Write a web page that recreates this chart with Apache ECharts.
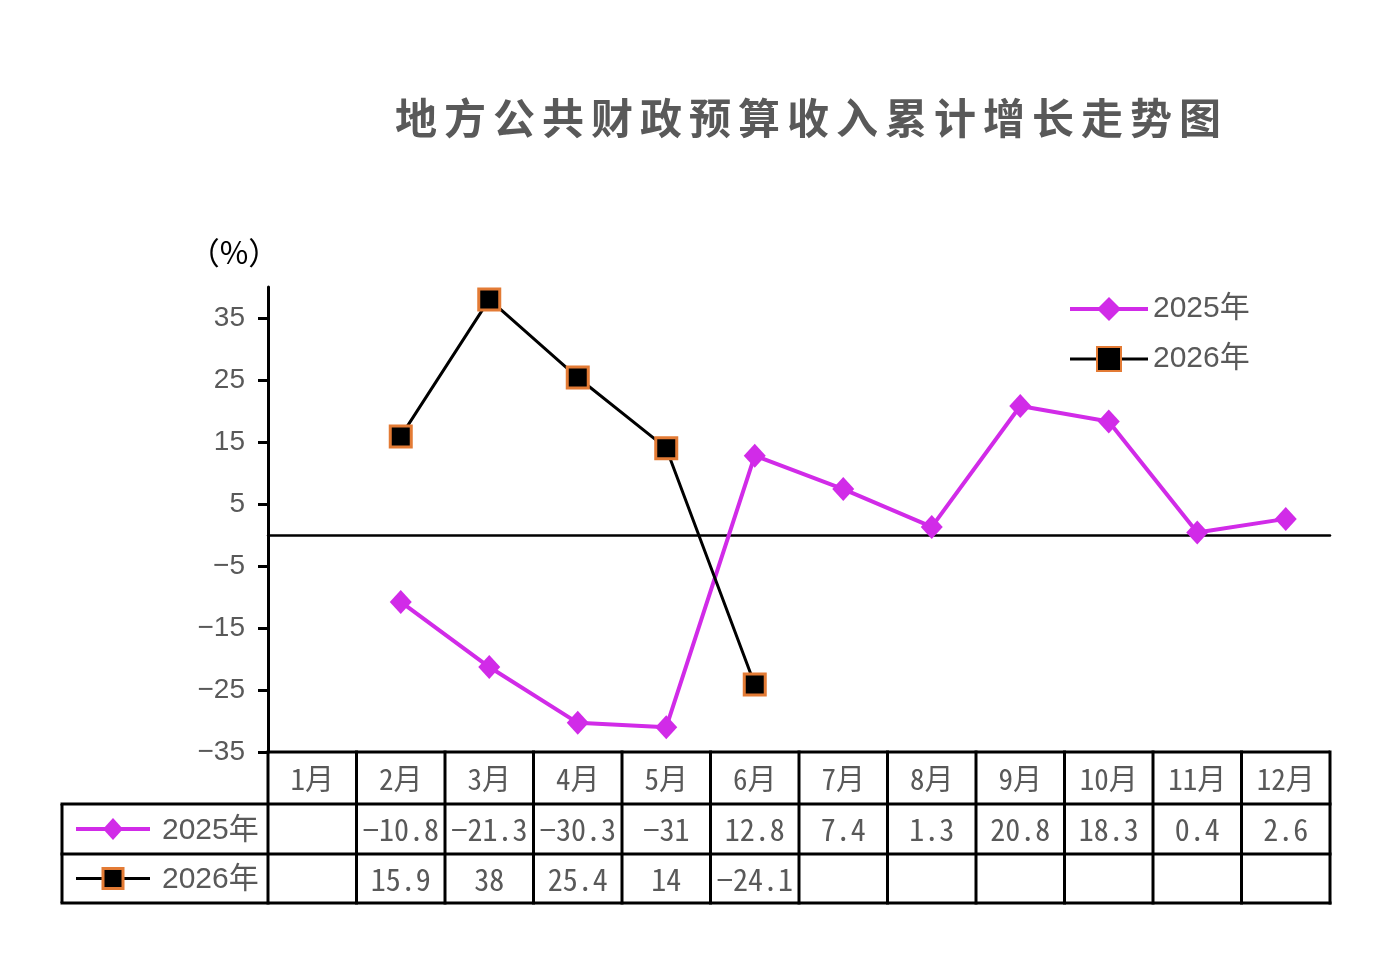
<!DOCTYPE html>
<html><head><meta charset="utf-8">
<script src="https://cdn.jsdelivr.net/npm/echarts@6/dist/echarts.min.js"></script>
<style>html,body{margin:0;padding:0;background:#fff}#c{width:1386px;height:968px}</style>
</head><body><div id="c"></div>
<script>
const titleText = '地方公共财政预算收入累计增长走势图';
const unitText = '（%）';
const months = ['1月','2月','3月','4月','5月','6月','7月','8月','9月','10月','11月','12月'];
const seriesNames = ['2025年','2026年'];
const v2025 = [null,-10.8,-21.3,-30.3,-31,12.8,7.4,1.3,20.8,18.3,0.4,2.6];
const v2026 = [null,15.9,38,25.4,14,-24.1,null,null,null,null,null,null];
const yTicks = [-35,-25,-15,-5,5,15,25,35];

const GRAY = '#595959';
const MAG = '#D12BE8';
const ORANGE = '#E37B35';
const FONT = '"Liberation Sans","Noto Sans CJK SC",sans-serif';
const CJK = '"Noto Sans CJK SC",sans-serif';
const MONO = '"Noto Sans Mono CJK SC","Noto Sans CJK SC",sans-serif';
const fmt = v => v == null ? '' : String(v).replace('-', '\u2212');

const chart = echarts.init(document.getElementById('c'), null, {renderer:'canvas'});
const GL = 268, GR = 56, GT = 287, GB = 216;
chart.setOption({
  animation:false,
  backgroundColor:'#fff',
  title:{text:titleText.split('').join('\u2006'), left:803, top:92, textAlign:'center',
    textStyle:{fontSize:42, fontWeight:'bold', color:GRAY, fontFamily:CJK}},
  legend:{orient:'vertical', left:1063, top:289, itemWidth:78, itemHeight:30, itemGap:20,
    textStyle:{fontSize:30, color:GRAY, fontFamily:FONT},
    lineStyle:{width:4},
    data:[
      {name:seriesNames[0], lineStyle:{width:4, color:MAG}},
      {name:seriesNames[1], lineStyle:{width:3, color:'#000'}}
    ]},
  grid:{left:GL, right:GR, top:GT, bottom:GB},
  xAxis:{type:'category', data:months, boundaryGap:true,
    axisLine:{onZero:true, lineStyle:{color:'#000', width:2.5}},
    axisTick:{show:false}, axisLabel:{show:false}, splitLine:{show:false}},
  yAxis:{type:'value', min:-35, max:40, interval:5,
    axisLine:{show:true, lineStyle:{color:'#000', width:3}},
    axisTick:{show:true, length:10, inside:false, lineStyle:{color:'#000', width:3}, customValues:yTicks},
    axisLabel:{fontSize:28, color:GRAY, fontFamily:FONT, margin:23, customValues:yTicks, formatter:v=>fmt(v)},
    splitLine:{show:false}},
  series:[
    {name:seriesNames[0], type:'line', data:v2025, connectNulls:false,
      symbol:'diamond', symbolSize:[22,24], lineStyle:{color:MAG, width:4}, itemStyle:{color:MAG}, z:3},
    {name:seriesNames[1], type:'line', data:v2026,
      symbol:'rect', symbolSize:21, lineStyle:{color:'#000', width:3},
      itemStyle:{color:'#000', borderColor:ORANGE, borderWidth:3}, z:4}
  ]
});

// Table under the chart
const xs = months.map((m,i)=>chart.convertToPixel({xAxisIndex:0}, i));
const w = xs[1]-xs[0];
const left0 = xs[0]-w/2, right0 = xs[xs.length-1]+w/2;
const yTop = chart.convertToPixel({yAxisIndex:0}, -35);
const r1 = yTop+52, r2 = r1+50, yBot = r2+49;
const TL = 62;
const lw = 3;
const g = [];
const L = (x1,y1,x2,y2,c,wd) => g.push({type:'line', shape:{x1,y1,x2,y2}, style:{stroke:c||'#000', lineWidth:wd||lw}, z:10});
const T = (x,y,text,align,font) => g.push({type:'text', x, y, style:{text, fill:GRAY, font:font||('28px '+CJK), align:align||'center', verticalAlign:'middle'}, z:10});
L(left0, yTop, right0, yTop);
[r1, r2, yBot].forEach(y=>L(TL-1.5, y, right0+1.5, y));
L(TL, r1, TL, yBot);
for (let k=0;k<=months.length;k++){ const x=left0+k*w; L(x, yTop-1.5, x, yBot+1.5); }
months.forEach((m,i)=>{
  T(xs[i], (yTop+r1)/2+1, m, 'center', '29px '+MONO);
  T(xs[i], (r1+r2)/2+1, fmt(v2025[i]), 'center', '30px '+MONO);
  T(xs[i], (r2+yBot)/2+1, fmt(v2026[i]), 'center', '30px '+MONO);
});
// row labels with legend-like icons
const c1 = (r1+r2)/2, c2 = (r2+yBot)/2;
L(76, c1, 150, c1, MAG, 4);
g.push({type:'polygon', shape:{points:[[113,c1-11],[123,c1],[113,c1+11],[103,c1]]}, style:{fill:MAG}, z:11});
T(162, c1+2, seriesNames[0], 'left', '30px '+FONT);
L(76, c2, 150, c2, '#000', 3);
g.push({type:'rect', shape:{x:103,y:c2-10,width:20,height:20}, style:{fill:'#000', stroke:ORANGE, lineWidth:3}, z:11});
T(162, c2+1, seriesNames[1], 'left', '30px '+FONT);
// unit label
g.push({type:'text', x:234, y:252, style:{text:unitText, fill:'#000', font:'31px '+CJK, align:'center', verticalAlign:'middle'}, z:10});
chart.setOption({graphic:g});
</script></body></html>
